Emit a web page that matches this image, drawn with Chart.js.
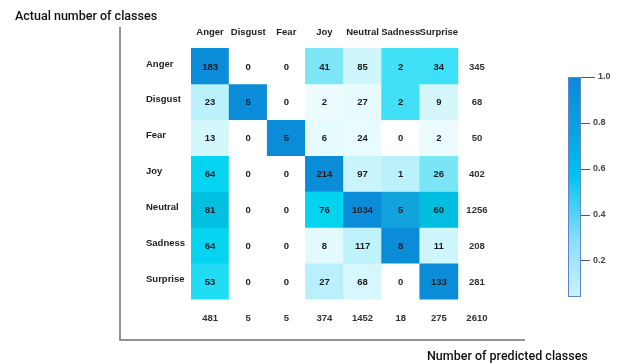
<!DOCTYPE html>
<html>
<head>
<meta charset="utf-8">
<script src="https://cdn.jsdelivr.net/npm/chart.js@4.4.1/dist/chart.umd.min.js"></script>
<style>
  html, body { margin: 0; padding: 0; background: #fff; }
  canvas { display: block; }
</style>
</head>
<body>
<canvas id="confusionChart" width="619" height="363"></canvas>
<script>
// categories
const classLabels = ['Anger', 'Disgust', 'Fear', 'Joy', 'Neutral', 'Sadness', 'Surprise'];

// actual class rows (predicted class columns)
const angerRow    = [183, 0, 0, 41, 85, 2, 34];
const disgustRow  = [23, 5, 0, 2, 27, 2, 9];
const fearRow     = [13, 0, 5, 6, 24, 0, 2];
const joyRow      = [64, 0, 0, 214, 97, 1, 26];
const neutralRow  = [81, 0, 0, 76, 1034, 5, 60];
const sadnessRow  = [64, 0, 0, 8, 117, 8, 11];
const surpriseRow = [53, 0, 0, 27, 68, 0, 133];

const rowTotals = [345, 68, 50, 402, 1256, 208, 281];
const colTotals = [481, 5, 5, 374, 1452, 18, 275];
const grandTotal = 2610;

const colorbarTicks = [0.2, 0.4, 0.6, 0.8, 1.0];

const matrix = [angerRow, disgustRow, fearRow, joyRow, neutralRow, sadnessRow, surpriseRow];

// colour ramp for the cells, white -> cyan -> blue
const colorStops = [
    [0.00, [242, 253, 255]],
    [0.08, [208, 246, 252]],
    [0.13, [184, 240, 251]],
    [0.19, [128, 230, 246]],
    [0.25, [66, 224, 246]],
    [0.30, [24, 220, 242]],
    [0.36, [0, 210, 238]],
    [0.45, [0, 190, 224]],
    [0.62, [18, 162, 220]],
    [1.00, [10, 140, 216]]
];

// colorbar ramp (bottom -> top)
const barStops = [
    [0.00, [204, 242, 253]],
    [0.25, [140, 222, 248]],
    [0.45, [50, 204, 244]],
    [0.55, [0, 196, 240]],
    [0.75, [10, 162, 228]],
    [1.00, [14, 136, 216]]
];

function ramp(stops, t) {
    t = Math.max(0, Math.min(1, t));
    for (let i = 1; i < stops.length; i++) {
        const [t1, c1] = stops[i];
        const [t0, c0] = stops[i - 1];
        if (t <= t1) {
            const f = (t - t0) / (t1 - t0);
            const c = c0.map((v, k) => Math.round(v + (c1[k] - v) * f));
            return `rgb(${c[0]}, ${c[1]}, ${c[2]})`;
        }
    }
    const c = stops[stops.length - 1][1];
    return `rgb(${c[0]}, ${c[1]}, ${c[2]})`;
}

// each column is scaled by its own max
const colMax = classLabels.map((_, j) => Math.max(...matrix.map(r => r[j])));

function cellColor(v, j) {
    if (v === 0) return '#ffffff';
    return ramp(colorStops, v / colMax[j]);
}

const xLabels = [...classLabels, ''];

const datasets = matrix.map((row, i) => ({
    label: classLabels[i],
    data: row.map(() => [i - 0.5, i + 0.5]).concat([null]),
    backgroundColor: row.map((v, j) => cellColor(v, j)).concat(['rgba(0,0,0,0)']),
    borderWidth: 0,
    barPercentage: 1,
    categoryPercentage: 1,
    grouped: false
}));

const FONT = '"Liberation Sans", Arial, sans-serif';
const TITLE_FONT = 'Roboto, "Liberation Sans", sans-serif';

const matrixText = {
    id: 'matrixText',
    afterDatasetsDraw(chart) {
        const ctx = chart.ctx;
        const xs = chart.scales.x, ys = chart.scales.y;
        const area = chart.chartArea;
        ctx.save();
        ctx.textAlign = 'center';
        ctx.textBaseline = 'middle';

        // cell counts
        ctx.font = `bold 9.5px ${FONT}`;
        ctx.fillStyle = '#1c1c1c';
        matrix.forEach((row, i) => {
            row.forEach((v, j) => {
                ctx.fillText(String(v), xs.getPixelForValue(j), ys.getPixelForValue(i) + 1);
            });
        });

        // totals
        ctx.fillStyle = '#333';
        rowTotals.forEach((v, i) => {
            ctx.fillText(String(v), xs.getPixelForValue(7), ys.getPixelForValue(i) + 1);
        });
        colTotals.forEach((v, j) => {
            ctx.fillText(String(v), xs.getPixelForValue(j), ys.getPixelForValue(7) + 1);
        });
        ctx.fillText(String(grandTotal), xs.getPixelForValue(7), ys.getPixelForValue(7) + 1);

        // frame lines
        ctx.strokeStyle = '#707070';
        ctx.lineWidth = 1.5;
        ctx.beginPath();
        ctx.moveTo(120, 27);
        ctx.lineTo(120, area.bottom + 5);
        ctx.lineTo(525, area.bottom + 5);
        ctx.stroke();

        // axis titles
        ctx.fillStyle = '#111';
        ctx.font = `500 12.5px ${TITLE_FONT}`;
        ctx.textAlign = 'left';
        ctx.textBaseline = 'alphabetic';
        ctx.fillText('Actual number of classes', 15, 20);
        ctx.fillText('Number of predicted classes', 427, 360);

        // colorbar
        const cbL = 568, cbR = 581, cbT = 77, cbB = 297, vMin = 0.04, vMax = 1.0;
        const grad = ctx.createLinearGradient(0, cbB, 0, cbT);
        for (let k = 0; k <= 20; k++) {
            grad.addColorStop(k / 20, ramp(barStops, k / 20));
        }
        ctx.fillStyle = grad;
        ctx.fillRect(cbL, cbT, cbR - cbL, cbB - cbT);
        ctx.strokeStyle = '#5b86c8';
        ctx.lineWidth = 1;
        ctx.strokeRect(cbL + 0.5, cbT + 0.5, cbR - cbL - 1, cbB - cbT - 1);

        ctx.font = `bold 9px ${FONT}`;
        ctx.fillStyle = '#444';
        ctx.textBaseline = 'middle';
        ctx.strokeStyle = '#555';
        colorbarTicks.forEach(t => {
            const y = cbB - (t - vMin) / (vMax - vMin) * (cbB - cbT);
            const len = t === 1.0 ? 14 : 9;
            ctx.beginPath();
            ctx.moveTo(cbR, Math.round(y) + 0.5);
            ctx.lineTo(cbR + len, Math.round(y) + 0.5);
            ctx.stroke();
            ctx.fillText(t.toFixed(1), cbR + len + 3, y);
        });
        ctx.restore();
    }
};

new Chart(document.getElementById('confusionChart'), {
    type: 'bar',
    data: { labels: xLabels, datasets },
    options: {
        responsive: false,
        animation: false,
        devicePixelRatio: 1,
        layout: { padding: { left: 146, right: 123, top: 0, bottom: 28 } },
        plugins: {
            legend: { display: false },
            tooltip: { enabled: false }
        },
        scales: {
            x: {
                position: 'top',
                grid: { display: false, drawTicks: false },
                border: { display: false },
                ticks: {
                    padding: 10,
                    maxRotation: 0,
                    autoSkip: false,
                    color: '#222',
                    font: { family: FONT, size: 9.5, weight: 'bold' }
                },
                afterFit(scale) { scale.height = 48; }
            },
            y: {
                type: 'linear',
                min: -0.5,
                max: 7.5,
                reverse: true,
                grid: { display: false, drawTicks: false },
                border: { display: false },
                afterBuildTicks(scale) {
                    scale.ticks = classLabels.map((_, i) => ({ value: i }));
                },
                ticks: {
                    crossAlign: 'far',
                    padding: 0,
                    labelOffset: -2,
                    color: '#222',
                    font: { family: FONT, size: 9.5, weight: 'bold' },
                    callback: v => classLabels[v] ?? ''
                },
                afterFit(scale) { scale.width = 45; }
            }
        }
    },
    plugins: [matrixText]
});
</script>
</body>
</html>
